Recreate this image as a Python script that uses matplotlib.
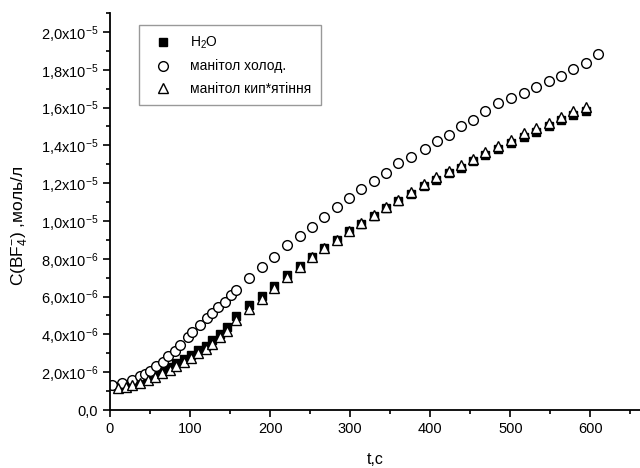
import numpy as np
import matplotlib
matplotlib.use("Agg")
import matplotlib.pyplot as plt
from matplotlib.ticker import MultipleLocator, FuncFormatter

plt.rcParams['font.family'] = ['Liberation Sans', 'DejaVu Sans']
plt.rcParams['mathtext.fontset'] = 'custom'
plt.rcParams['mathtext.rm'] = 'Liberation Sans'
plt.rcParams['mathtext.it'] = 'Liberation Sans:italic'

# H2O (squares) and boiled mannitol (triangles) share time points
t_water = [10, 20, 28, 37, 47, 56, 65, 75, 83, 93, 101, 110, 120, 128, 137, 146,
           158, 174, 190, 205, 221, 237, 252, 267, 283, 299, 314, 330, 345, 360,
           376, 392, 407, 423, 438, 453, 469, 485, 501, 517, 532, 548, 563, 578, 594]
c_water = [1.22, 1.30, 1.40, 1.55, 1.70, 1.88, 2.06, 2.28, 2.50, 2.72, 2.93, 3.17,
           3.40, 3.70, 4.02, 4.38, 4.95, 5.55, 6.05, 6.55, 7.14, 7.62, 8.10, 8.55,
           9.00, 9.48, 9.85, 10.28, 10.66, 11.05, 11.45, 11.85, 12.18, 12.52, 12.82,
           13.15, 13.50, 13.80, 14.12, 14.45, 14.72, 15.00, 15.35, 15.60, 15.80]

t_boil = t_water
c_boil = [1.15, 1.23, 1.32, 1.45, 1.59, 1.76, 1.94, 2.12, 2.35, 2.56, 2.75, 3.00,
          3.22, 3.50, 3.85, 4.20, 4.75, 5.33, 5.87, 6.45, 7.05, 7.55, 8.08, 8.55,
          9.00, 9.49, 9.88, 10.32, 10.72, 11.11, 11.53, 11.95, 12.30, 12.65, 12.95,
          13.30, 13.67, 13.97, 14.29, 14.64, 14.90, 15.17, 15.49, 15.84, 16.05]

t_cold = [3, 15, 27, 37, 44, 50, 58, 66, 72, 81, 88, 97, 103, 113, 121, 128, 135,
          144, 151, 158, 174, 190, 205, 221, 237, 252, 267, 283, 299, 314, 330,
          345, 360, 376, 393, 408, 423, 438, 454, 469, 485, 501, 517, 532, 548,
          563, 578, 594, 610]
c_cold = [1.32, 1.44, 1.59, 1.80, 1.90, 2.08, 2.33, 2.56, 2.86, 3.14, 3.44, 3.85,
          4.14, 4.50, 4.85, 5.15, 5.43, 5.73, 6.08, 6.35, 6.97, 7.55, 8.11, 8.71,
          9.18, 9.70, 10.23, 10.74, 11.20, 11.68, 12.12, 12.56, 13.05, 13.37,
          13.79, 14.25, 14.55, 15.03, 15.32, 15.84, 16.23, 16.51, 16.79, 17.11,
          17.39, 17.67, 18.03, 18.34, 18.84]

fig = plt.figure(figsize=(6.4, 4.68), dpi=100)
ax = fig.add_axes([110 / 640, 58 / 468, 530 / 640, 397 / 468])

ms = 7
ax.plot(t_water, np.array(c_water) * 1e-6, 's', color='black', ms=ms - 1,
        mec='black', label='H$_2$O')
ax.plot(t_cold, np.array(c_cold) * 1e-6, 'o', mfc='white', mec='black', ms=ms,
        mew=1, label='манітол холод.')
ax.plot(t_boil, np.array(c_boil) * 1e-6, '^', mfc='white', mec='black', ms=ms,
        mew=1, label='манітол кип*ятіння')

ax.set_xlim(0, 662)
ax.set_ylim(0, 2.1e-5)
ax.xaxis.set_major_locator(MultipleLocator(100))
ax.xaxis.set_minor_locator(MultipleLocator(50))
ax.yaxis.set_major_locator(MultipleLocator(2e-6))
ax.yaxis.set_minor_locator(MultipleLocator(1e-6))


def yfmt(v, pos):
    if abs(v) < 1e-12:
        return '0,0'
    exp = int(np.floor(np.log10(abs(v)) + 1e-9))
    mant = v / 10 ** exp
    return ('%.1f' % mant).replace('.', ',') + 'x10$^{%d}$' % exp


ax.yaxis.set_major_formatter(FuncFormatter(yfmt))

for side in ['top', 'right']:
    ax.spines[side].set_visible(False)
for side in ['left', 'bottom']:
    ax.spines[side].set_linewidth(1.3)
ax.tick_params(which='major', direction='out', length=5, width=1.2, labelsize=10.5)
ax.tick_params(which='minor', direction='out', length=3, width=1.2)

ax.set_xlabel('t,c', fontsize=11.5, labelpad=12)
ax.set_ylabel('C(BF$_4^{-}$) ,моль/л', fontsize=12.5)
ax.yaxis.set_label_coords(-0.15, 0.463)

leg = ax.legend(loc='upper left', bbox_to_anchor=(0.055, 0.97), fontsize=10,
                frameon=True, fancybox=False, edgecolor='gray', handletextpad=0.95,
                borderpad=0.7, labelspacing=0.6, handlelength=2.0, borderaxespad=0)
leg.get_frame().set_linewidth(1.0)

fig.savefig('out.png', dpi=100)
